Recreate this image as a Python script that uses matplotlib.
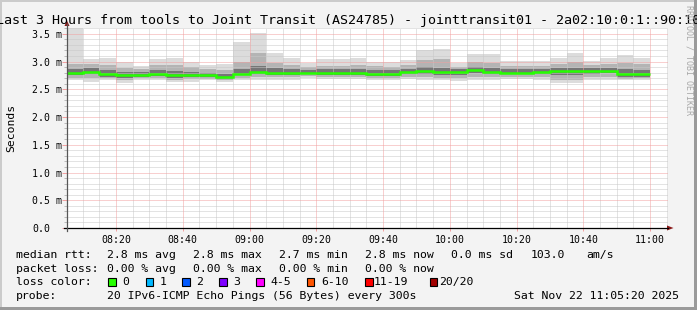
import matplotlib
matplotlib.use("Agg")
import matplotlib.pyplot as plt
from matplotlib.lines import Line2D
from matplotlib.patches import Rectangle, Polygon

W, H, DPI = 697, 310, 100
MONO = "DejaVu Sans Mono"

# ---------------- data ----------------
# time in minutes after 08:00; window 08:05:20 .. 11:05:20, 5-minute bins
window_start = 5 + 20 / 60
window_end = 185 + 20 / 60
bin_edges = [window_start] + list(range(10, 181, 5))

# RTT in milliseconds per 5-minute bin (35 bins)
rtt_max = [3.61, 3.04, 3.07, 2.99, 2.92, 3.04, 3.07, 3.00, 2.94, 2.96,
           3.36, 3.51, 3.16, 3.07, 2.98, 3.05, 3.04, 3.07, 3.00, 3.00,
           3.03, 3.21, 3.23, 2.98, 3.14, 3.14, 3.01, 3.01, 3.01, 3.07,
           3.16, 3.01, 3.06, 3.11, 3.07]
rtt_p90 = [2.95, 2.95, 2.94, 2.88, 2.86, 2.93, 2.93, 2.90, 2.86, 2.85,
           3.00, 3.16, 2.98, 2.93, 2.90, 2.92, 2.92, 2.93, 2.92, 2.90,
           2.93, 3.02, 3.05, 2.91, 3.00, 2.98, 2.92, 2.92, 2.92, 2.96,
           3.00, 2.93, 2.95, 2.98, 2.95]
rtt_p75 = [2.86, 2.88, 2.85, 2.81, 2.81, 2.85, 2.83, 2.82, 2.80, 2.78,
           2.86, 2.92, 2.88, 2.86, 2.85, 2.86, 2.86, 2.87, 2.85, 2.84,
           2.87, 2.90, 2.89, 2.86, 2.90, 2.88, 2.86, 2.86, 2.87, 2.88,
           2.89, 2.88, 2.88, 2.86, 2.85]
rtt_median = [2.79, 2.82, 2.78, 2.75, 2.76, 2.78, 2.75, 2.76, 2.75, 2.72,
              2.78, 2.82, 2.80, 2.79, 2.80, 2.80, 2.80, 2.80, 2.78, 2.78,
              2.81, 2.83, 2.81, 2.81, 2.84, 2.82, 2.80, 2.80, 2.81, 2.83,
              2.83, 2.83, 2.83, 2.78, 2.78]
rtt_p25 = [2.75, 2.77, 2.73, 2.70, 2.72, 2.74, 2.70, 2.72, 2.72, 2.69,
           2.75, 2.78, 2.76, 2.75, 2.77, 2.76, 2.76, 2.76, 2.74, 2.74,
           2.77, 2.78, 2.76, 2.76, 2.79, 2.78, 2.77, 2.77, 2.77, 2.75,
           2.76, 2.78, 2.79, 2.72, 2.73]
rtt_p10 = [2.71, 2.70, 2.70, 2.66, 2.70, 2.71, 2.67, 2.68, 2.69, 2.67,
           2.71, 2.72, 2.72, 2.72, 2.74, 2.72, 2.72, 2.72, 2.71, 2.71,
           2.73, 2.72, 2.71, 2.70, 2.72, 2.72, 2.73, 2.73, 2.72, 2.67,
           2.67, 2.72, 2.73, 2.69, 2.70]
rtt_min = [2.67, 2.64, 2.67, 2.61, 2.67, 2.67, 2.63, 2.63, 2.66, 2.64,
           2.67, 2.67, 2.67, 2.67, 2.70, 2.68, 2.68, 2.68, 2.67, 2.67,
           2.69, 2.67, 2.66, 2.65, 2.67, 2.67, 2.69, 2.69, 2.67, 2.61,
           2.61, 2.67, 2.67, 2.66, 2.67]

x_major = [20, 40, 60, 80, 100, 120, 140, 160, 180]
x_labels = ["08:20", "08:40", "09:00", "09:20", "09:40", "10:00", "10:20", "10:40", "11:00"]
y_major = [0.0, 0.5, 1.0, 1.5, 2.0, 2.5, 3.0, 3.5]
y_labels = ["0.0", "0.5 m", "1.0 m", "1.5 m", "2.0 m", "2.5 m", "3.0 m", "3.5 m"]
y_top = 3.61

title = "Last 3 Hours from tools to Joint Transit (AS24785) - jointtransit01 - 2a02:10:0:1::90:10"

stats_rtt = ["2.8 ms avg", "2.8 ms max", "2.7 ms min", "2.8 ms now", "0.0 ms sd", "103.0", "am/s"]
stats_loss = ["0.00 % avg", "0.00 % max", "0.00 % min", "0.00 % now"]
loss_labels = ["0", "1", "2", "3", "4-5", "6-10", "11-19", "20/20"]
loss_colors = ["#26ff00", "#00b8ff", "#0059ff", "#7e00ff", "#ff00ff", "#ff5500", "#ff0000", "#a10000"]
probe_text = "20 IPv6-ICMP Echo Pings (56 Bytes) every 300s"
date_text = "Sat Nov 22 11:05:20 2025"

# ---------------- layout helpers ----------------
def fx(x):
    return x / W

def fy(y):
    return 1 - y / H

fig = plt.figure(figsize=(W / DPI, H / DPI), dpi=DPI, facecolor="#f3f3f3")

# frame shading
fig.add_artist(Rectangle((0, fy(2)), 1, 2 / H, transform=fig.transFigure, color="#cbcbcb", lw=0))
fig.add_artist(Rectangle((0, 0), 2 / W, 1, transform=fig.transFigure, color="#cbcbcb", lw=0))
fig.add_artist(Rectangle((0, 0), 1, 3 / H, transform=fig.transFigure, color="#9a9a9a", lw=0))
fig.add_artist(Rectangle((fx(694), 0), 3 / W, 1, transform=fig.transFigure, color="#9a9a9a", lw=0))

ax_left, ax_right, ax_bottom, ax_top = 67, 668, 228, 27.7
ax = fig.add_axes([fx(ax_left), fy(ax_bottom), fx(ax_right - ax_left), (ax_bottom - ax_top) / H])
ax.set_facecolor("white")
ax.set_xlim(window_start, window_end)
ax.set_ylim(0, y_top)

# smoke
ax.stairs(rtt_max, bin_edges, baseline=rtt_min, fill=True, color="#dcdcdc", lw=0, zorder=1)
ax.stairs(rtt_p90, bin_edges, baseline=rtt_p10, fill=True, color="#b4b4b4", lw=0, zorder=1.1)
ax.stairs(rtt_p75, bin_edges, baseline=rtt_p25, fill=True, color="#767676", lw=0, zorder=1.2)

# grid (drawn over the smoke, like rrdtool)
minor_x = [m for m in range(10, 186, 5) if m not in x_major]
minor_y = [i / 10 for i in range(1, 37) if i % 5 != 0]
for m in minor_x:
    ax.axvline(m, color="#c8c8c8", lw=0.72, ls=(0, (1, 1)), zorder=2)
for v in minor_y:
    ax.axhline(v, color="#c8c8c8", lw=0.72, ls=(0, (1, 1)), zorder=2)
for m in x_major:
    ax.axvline(m, color="#f2a0a0", lw=0.72, ls=(0, (1, 1)), zorder=2.1)
for v in y_major[1:]:
    ax.axhline(v, color="#f2a0a0", lw=0.72, ls=(0, (1, 1)), zorder=2.1)

# median line
ax.stairs(rtt_median, bin_edges, baseline=None, color=loss_colors[0], lw=1.8, zorder=3)

for s in ax.spines.values():
    s.set_visible(False)

ax.set_xticks(x_major)
ax.set_xticklabels(x_labels, family=MONO, fontsize=7.1)
ax.set_xticks(minor_x, minor=True)
ax.set_yticks(y_major)
ax.set_yticklabels(y_labels, family=MONO, fontsize=7.1)
ax.set_yticks(minor_y, minor=True)
ax.tick_params(axis="x", which="major", length=2.2, width=0.72, color="#f2a0a0", pad=2.5)
ax.tick_params(axis="x", which="minor", length=0)
ax.tick_params(axis="y", which="major", length=3.5, width=0.72, color="#f2a0a0", pad=21.5)
ax.tick_params(axis="y", which="minor", length=2.2, width=0.72, color="#bbbbbb")
for lab in ax.get_yticklabels():
    lab.set_horizontalalignment("left")

# axes lines + arrows
fig.add_artist(Line2D([fx(64), fx(668)], [fy(228), fy(228)], transform=fig.transFigure, color="black", lw=0.9))
fig.add_artist(Line2D([fx(67), fx(67)], [fy(231), fy(24)], transform=fig.transFigure, color="#555555", lw=0.9))
fig.add_artist(Polygon([[fx(667), fy(225.5)], [fx(673.5), fy(228)], [fx(667), fy(230.5)]],
                       closed=True, transform=fig.transFigure, color="#8b1a1a", lw=0))
fig.add_artist(Polygon([[fx(64.5), fy(26)], [fx(67), fy(20.5)], [fx(69.5), fy(26)]],
                       closed=True, transform=fig.transFigure, color="#8b1a1a", lw=0))

# texts
fig.text(0.5, fy(24), title, ha="center", va="baseline", family=MONO, fontsize=9.65, color="black")
fig.text(fx(11), fy(128), "Seconds", rotation=90, ha="center", va="center", family=MONO, fontsize=8.2)
fig.text(fx(689), fy(60), "RRDTOOL / TOBI OETIKER", rotation=270, ha="center", va="center",
         family=MONO, fontsize=6, color="#a8a8a8")

LEG = 8.25
col_x = [107.3, 193.3, 279.3, 365.3, 451.3, 530.3, 586.3]
row_y = [257.7, 271.7, 285.3, 299.0]

fig.text(fx(16), fy(row_y[0]), "median rtt:", family=MONO, fontsize=LEG, va="baseline")
for x, s in zip(col_x, stats_rtt):
    fig.text(fx(x), fy(row_y[0]), s, family=MONO, fontsize=LEG, va="baseline")
fig.text(fx(16), fy(row_y[1]), "packet loss:", family=MONO, fontsize=LEG, va="baseline")
for x, s in zip(col_x, stats_loss):
    fig.text(fx(x), fy(row_y[1]), s, family=MONO, fontsize=LEG, va="baseline")

fig.text(fx(16), fy(row_y[2]), "loss color:", family=MONO, fontsize=LEG, va="baseline")
box_x = [108.3, 145.7, 182.3, 219.0, 256.0, 306.7, 365.3, 429.7]
lab_x = [122.6, 159.5, 196.5, 233.2, 270.2, 321.0, 374.1, 439.5]
for bx, lx, c, l in zip(box_x, lab_x, loss_colors, loss_labels):
    fig.add_artist(Rectangle((fx(bx), fy(286)), 7.7 / W, 7.7 / H, transform=fig.transFigure,
                             facecolor=c, edgecolor="black", lw=0.8))
    fig.text(fx(lx), fy(row_y[2]), l, family=MONO, fontsize=LEG, va="baseline")

fig.text(fx(16), fy(row_y[3]), "probe:", family=MONO, fontsize=LEG, va="baseline")
fig.text(fx(107.3), fy(row_y[3]), probe_text, family=MONO, fontsize=LEG, va="baseline")
fig.text(fx(513.7), fy(row_y[3]), date_text, family=MONO, fontsize=LEG, va="baseline")

fig.savefig("out.png", dpi=DPI, facecolor=fig.get_facecolor())
